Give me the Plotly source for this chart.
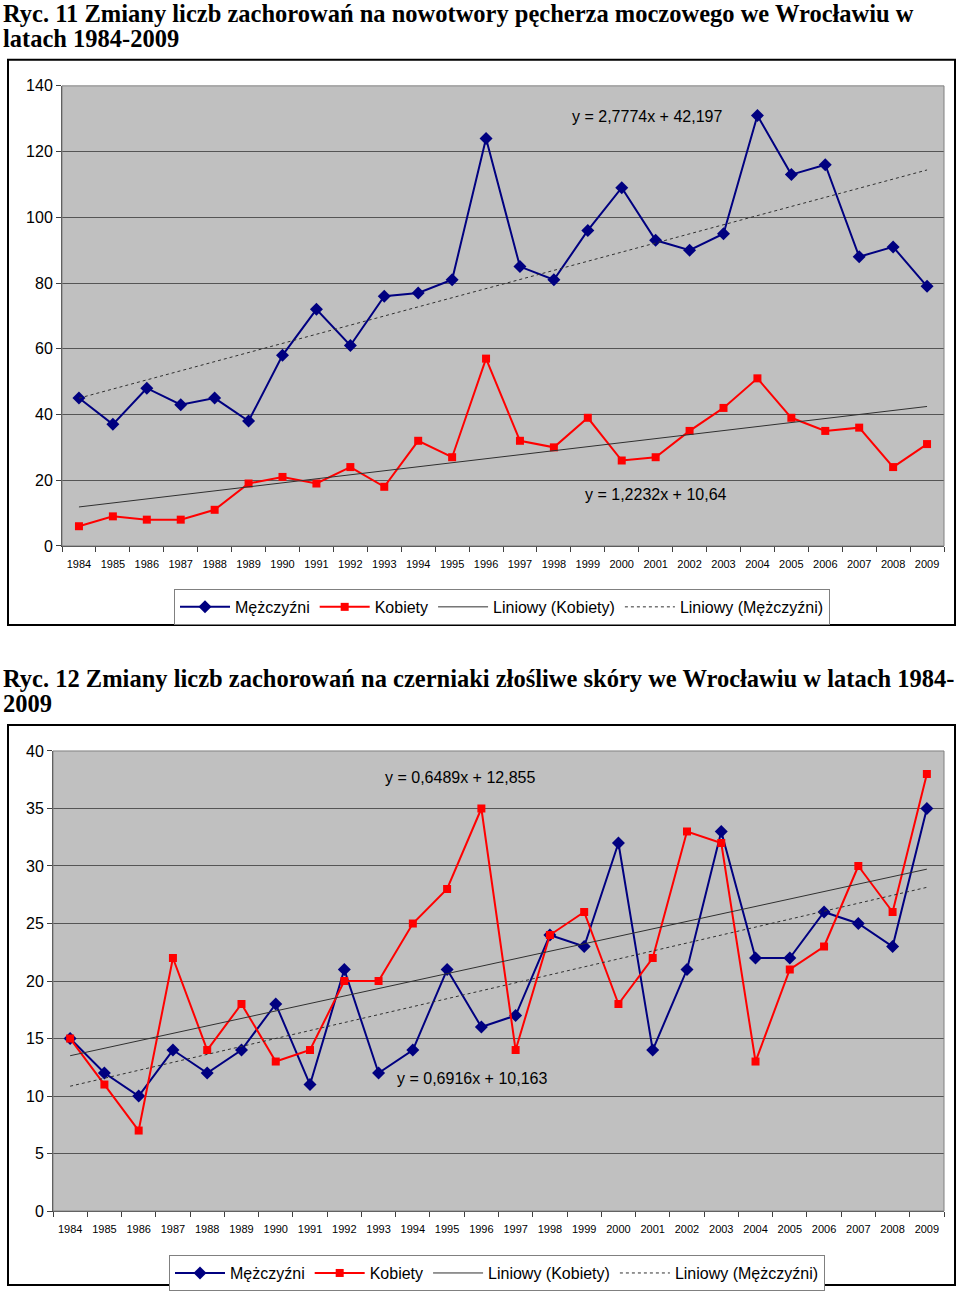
import numpy as np
import plotly.graph_objects as go

# ---------------- data ----------------
years = list(range(1984, 2010))
year_labels = [str(y) for y in years]

# Ryc. 11 – nowotwory pęcherza moczowego
c1_men = [45, 37, 48, 43, 45, 38, 58, 72, 61, 76, 77, 81, 124, 85, 81, 96,
          109, 93, 90, 95, 131, 113, 116, 88, 91, 79]
c1_women = [6, 9, 8, 8, 11, 19, 21, 19, 24, 18, 32, 27, 57, 32, 30, 39,
            26, 27, 35, 42, 51, 39, 35, 36, 24, 31]

# Ryc. 12 – czerniaki złośliwe skóry
c2_men = [15, 12, 10, 14, 12, 14, 18, 11, 21, 12, 14, 21, 16, 17, 24, 23,
          32, 14, 21, 33, 22, 22, 26, 25, 23, 35]
c2_women = [15, 11, 7, 22, 14, 18, 13, 14, 20, 20, 25, 28, 35, 14, 24, 26,
            18, 22, 33, 32, 13, 21, 23, 30, 26, 38]

title1_lines = ["Ryc. 11 Zmiany liczb zachorowań na nowotwory pęcherza moczowego we Wrocławiu w",
                "latach 1984-2009"]
title2_lines = ["Ryc. 12 Zmiany liczb zachorowań na czerniaki złośliwe skóry we Wrocławiu w latach 1984-",
                "2009"]
eq1_men = "y = 2,7774x + 42,197"
eq1_women = "y = 1,2232x + 10,64"
eq2_women = "y = 0,6489x + 12,855"
eq2_men = "y = 0,6916x + 10,163"

# ---------------- helpers ----------------
W, H = 960, 1295
S, C = 0.9867, 8.15          # compensation of the capture's vertical mapping
def fx(p):
    return p / W
def fy(p):
    page = (p - C) / S
    return 1 - page / H

def trend(vals):
    x = np.arange(1, len(vals) + 1)
    b, a = np.polyfit(x, vals, 1)
    return list(a + b * x)

NAVY = "#000080"
RED = "#FF0000"
TREND = "#303030"
SANS = "Liberation Sans, Arial, sans-serif"
SERIF = "Liberation Serif, Times New Roman, serif"

fig = go.Figure()

def add_chart(xa, ya, leg, men, women):
    fig.add_trace(go.Scatter(x=years, y=men, name="Mężczyźni", mode="lines+markers",
                             line=dict(color=NAVY, width=2),
                             marker=dict(symbol="diamond", size=10, color=NAVY),
                             xaxis=xa, yaxis=ya, legend=leg))
    fig.add_trace(go.Scatter(x=years, y=women, name="Kobiety", mode="lines+markers",
                             line=dict(color=RED, width=2),
                             marker=dict(symbol="square", size=8, color=RED),
                             xaxis=xa, yaxis=ya, legend=leg))
    fig.add_trace(go.Scatter(x=years, y=trend(women), name="Liniowy (Kobiety)", mode="lines",
                             line=dict(color=TREND, width=1),
                             xaxis=xa, yaxis=ya, legend=leg))
    fig.add_trace(go.Scatter(x=years, y=trend(men), name="Liniowy (Mężczyźni)", mode="lines",
                             line=dict(color=TREND, width=1, dash="dot"),
                             xaxis=xa, yaxis=ya, legend=leg))

add_chart("x", "y", "legend", c1_men, c1_women)
add_chart("x2", "y2", "legend2", c2_men, c2_women)

def xaxis_cfg(left, right, anchor):
    return dict(domain=[fx(left), fx(right)], range=[1983.5, 2009.5], anchor=anchor,
                tickmode="array", tickvals=years, ticktext=year_labels,
                tickfont=dict(family=SANS, size=11, color="#000"),
                ticks="outside", ticklen=8, tickcolor="rgba(0,0,0,0)",
                minor=dict(tick0=1983.5, dtick=1, ticks="outside", ticklen=5,
                           tickcolor="#404040", showgrid=False),
                showline=True, linecolor="#404040", linewidth=1,
                showgrid=False, zeroline=False, fixedrange=True)

def yaxis_cfg(top, bottom, rng, dtick, anchor):
    return dict(domain=[fy(bottom), fy(top)], range=rng, dtick=dtick, anchor=anchor,
                tickfont=dict(family=SANS, size=16, color="#000"),
                ticks="outside", ticklen=5, tickcolor="#404040",
                showline=True, linecolor="#404040", linewidth=1,
                showgrid=True, gridcolor="#555555", gridwidth=1, zeroline=False,
                fixedrange=True)

legend_style = dict(orientation="h", xanchor="center", yanchor="top",
                    bordercolor="#808080", borderwidth=1, bgcolor="white",
                    font=dict(family=SANS, size=16, color="#000"),
                    itemwidth=50, tracegroupgap=0)

fig.update_layout(
    width=W, height=H, margin=dict(l=0, r=0, t=0, b=0),
    paper_bgcolor="white", plot_bgcolor="#C0C0C0",
    font=dict(family=SANS, color="#000"),
    xaxis=xaxis_cfg(62, 944, "y"),
    yaxis=yaxis_cfg(86, 546, [0, 140], 20, "x"),
    xaxis2=xaxis_cfg(53, 944, "y2"),
    yaxis2=yaxis_cfg(751, 1211, [0, 40], 5, "x2"),
    legend=dict(legend_style, x=fx(502), y=fy(589)),
    legend2=dict(legend_style, x=fx(497), y=fy(1255)),
    showlegend=True,
)

shapes = []
# chart frames
for top, bottom in [(60, 625), (725, 1285)]:
    shapes.append(dict(type="rect", xref="paper", yref="paper",
                       x0=fx(8), x1=fx(955), y0=fy(bottom), y1=fy(top),
                       line=dict(color="black", width=2), layer="below"))
# plot-area borders
for xr, yr in [("x domain", "y domain"), ("x2 domain", "y2 domain")]:
    shapes.append(dict(type="rect", xref=xr, yref=yr, x0=0, x1=1, y0=0, y1=1,
                       line=dict(color="#808080", width=1)))
fig.update_layout(shapes=shapes)

annotations = []
for line, yc in zip(title1_lines, [14, 39]):
    annotations.append(dict(text="<b>" + line + "</b>", x=fx(1), y=fy(yc),
                            xanchor="left", yanchor="middle",
                            font=dict(family=SERIF, size=24.5, color="black")))
for line, yc in zip(title2_lines, [679, 704]):
    annotations.append(dict(text="<b>" + line + "</b>", x=fx(1), y=fy(yc),
                            xanchor="left", yanchor="middle",
                            font=dict(family=SERIF, size=24.5, color="black")))
for txt, xc, yc in [(eq1_men, 647, 117), (eq1_women, 656, 495),
                    (eq2_women, 460, 778), (eq2_men, 472, 1078)]:
    annotations.append(dict(text=txt, x=fx(xc), y=fy(yc), xanchor="center", yanchor="middle",
                            font=dict(family=SANS, size=16, color="black")))
for a in annotations:
    a.update(xref="paper", yref="paper", showarrow=False)
fig.update_layout(annotations=annotations)

fig.write_html("out.html", config={"displayModeBar": False},
               post_script="document.body.style.margin='0';")
